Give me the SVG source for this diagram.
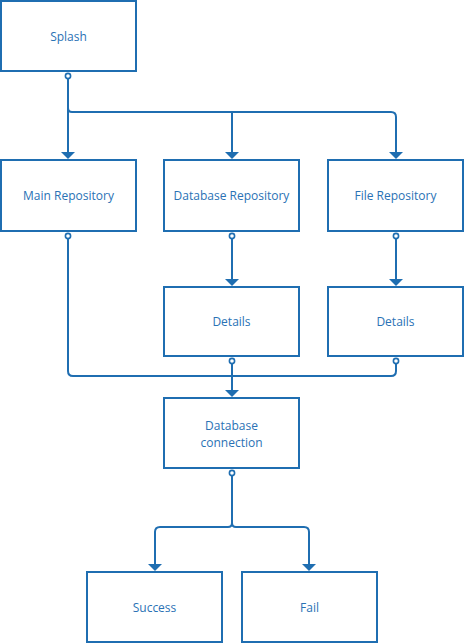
<svg xmlns="http://www.w3.org/2000/svg" width="464" height="644" viewBox="0 0 464 644">
<style>
.box{fill:#fff;stroke:#1f6eb1;stroke-width:2}
.lbl{font-family:"Open Sans","Noto Sans",sans-serif;font-size:12px;fill:#2a72b5;text-anchor:middle;dominant-baseline:central}
.ln{fill:none;stroke:#1f6eb1;stroke-width:2}
.dot{fill:#fff;stroke:#1f6eb1;stroke-width:1.6}
.ah{fill:#1f6eb1}
</style>
<rect width="464" height="644" fill="#fff"/>
<g id="connectors">
<path class="ln" d="M68,79 V152"/>
<path class="ah" d="M61,152 L75,152 L68,159 Z"/>
<path class="ln" d="M68,108 q0,4 4,4 H391 q5,0 5,5 V152"/>
<path class="ah" d="M389,152 L403,152 L396,159 Z"/>
<path class="ln" d="M232,112 V152"/>
<path class="ah" d="M225,152 L239,152 L232,159 Z"/>
<path class="ln" d="M232,239 V279"/>
<path class="ah" d="M225,279 L239,279 L232,286 Z"/>
<path class="ln" d="M396,239 V279"/>
<path class="ah" d="M389,279 L403,279 L396,286 Z"/>
<path class="ln" d="M68,239 V371 q0,5 5,5 H391 q5,0 5,-5 V364"/>
<path class="ln" d="M232,364 V390"/>
<path class="ah" d="M225,390 L239,390 L232,397 Z"/>
<path class="ln" d="M232,476 V523 q0,4 -4,4 H160 q-5,0 -5,5 V564"/>
<path class="ah" d="M148,564 L162,564 L155,571 Z"/>
<path class="ln" d="M232,523 q0,4 4,4 H304 q5,0 5,5 V564"/>
<path class="ah" d="M302,564 L316,564 L309,571 Z"/>
<circle class="dot" cx="68" cy="76" r="2.6"/>
<circle class="dot" cx="68" cy="236" r="2.6"/>
<circle class="dot" cx="232" cy="236" r="2.6"/>
<circle class="dot" cx="396" cy="236" r="2.6"/>
<circle class="dot" cx="232" cy="361" r="2.6"/>
<circle class="dot" cx="396" cy="361" r="2.6"/>
<circle class="dot" cx="232" cy="473" r="2.6"/>
</g>
<g id="splash"><rect class="box" x="1" y="1" width="135" height="70"/><text class="lbl" x="68.5" y="36">Splash</text></g>
<g id="main-repo"><rect class="box" x="1" y="160" width="135" height="71"/><text class="lbl" x="68.5" y="195">Main Repository</text></g>
<g id="db-repo"><rect class="box" x="164" y="160" width="135" height="71"/><text class="lbl" x="231.5" y="195">Database Repository</text></g>
<g id="file-repo"><rect class="box" x="328" y="160" width="135" height="71"/><text class="lbl" x="395.5" y="195">File Repository</text></g>
<g id="details-db"><rect class="box" x="164" y="287" width="135" height="69"/><text class="lbl" x="231.5" y="321">Details</text></g>
<g id="details-file"><rect class="box" x="328" y="287" width="135" height="69"/><text class="lbl" x="395.5" y="321">Details</text></g>
<g id="db-connection"><rect class="box" x="164" y="398" width="135" height="70"/><text class="lbl" x="231.5" y="425">Database</text><text class="lbl" x="231.5" y="442">connection</text></g>
<g id="success"><rect class="box" x="87" y="572" width="135" height="70"/><text class="lbl" x="154.5" y="607">Success</text></g>
<g id="fail"><rect class="box" x="242" y="572" width="135" height="70"/><text class="lbl" x="309.5" y="607">Fail</text></g>
</svg>
